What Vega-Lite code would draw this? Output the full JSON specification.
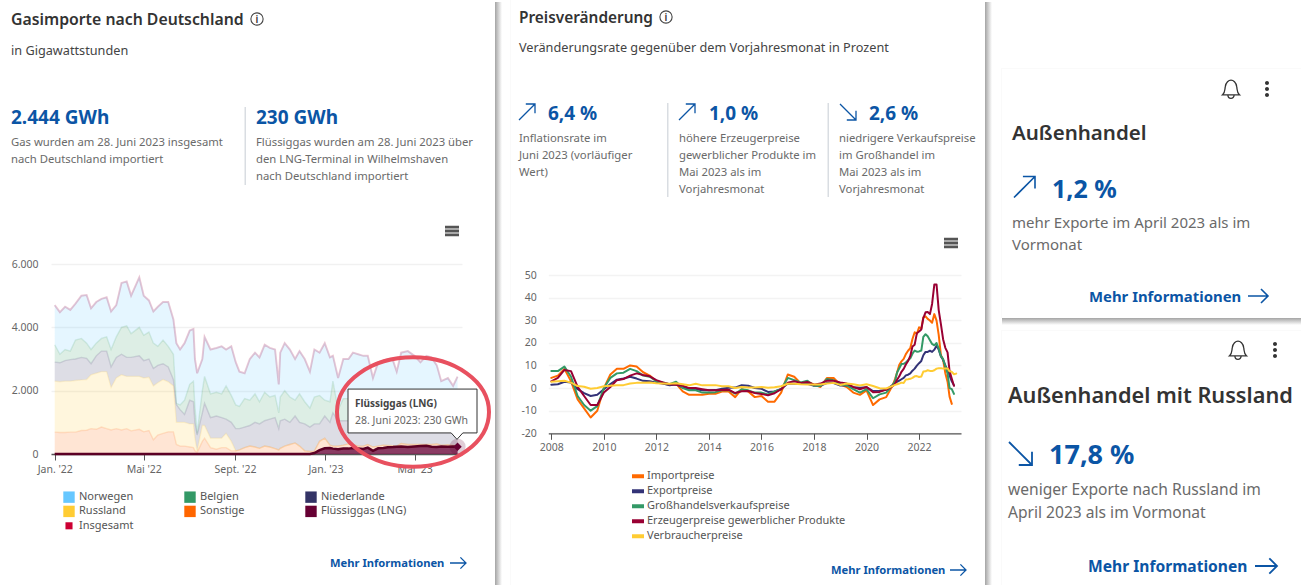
{"$schema":"https://vega.github.io/schema/vega-lite/v6.json","width":1301,"height":585,"padding":0,"autosize":{"type":"none"},"background":"#ffffff","data":{"values":[{}]},
"config":{"view":{"stroke":null},"style":{
"h1":{"font":"Noto Sans","fontSize":15.8,"fontWeight":600,"color":"#333333","align":"left","baseline":"alphabetic"},
"h2":{"font":"Noto Sans","fontSize":20.5,"fontWeight":600,"color":"#333333","align":"left","baseline":"alphabetic"},
"sub":{"font":"Noto Sans","fontSize":12.7,"color":"#444444","align":"left","baseline":"alphabetic"},
"big":{"font":"Noto Sans","fontSize":19,"fontWeight":700,"color":"#0B55A5","align":"left","baseline":"alphabetic"},
"big2":{"font":"Noto Sans","fontSize":25,"fontWeight":700,"color":"#0B55A5","align":"left","baseline":"alphabetic"},
"par":{"font":"Noto Sans","fontSize":11.3,"color":"#6A6A6A","align":"left","baseline":"alphabetic"},
"par2":{"font":"Noto Sans","fontSize":15,"color":"#6A6A6A","align":"left","baseline":"alphabetic"},
"more":{"font":"Noto Sans","fontSize":11.2,"fontWeight":700,"color":"#0B55A5","align":"left","baseline":"alphabetic"},
"more2":{"font":"Noto Sans","fontSize":14.9,"fontWeight":700,"color":"#0B55A5","align":"left","baseline":"alphabetic"},
"tip":{"font":"Noto Sans","fontSize":10,"fontWeight":700,"color":"#444444","align":"left","baseline":"alphabetic"},
"tip2":{"font":"Noto Sans","fontSize":10.5,"color":"#666666","align":"left","baseline":"alphabetic"},
"i":{"font":"Noto Sans","fontSize":10,"fontWeight":600,"color":"#333333","align":"center","baseline":"alphabetic"}
}},
"resolve":{"scale":{"x":"independent","y":"independent","color":"independent"},"axis":{"x":"independent","y":"independent"},"legend":{"color":"independent"}},
"layer":[
{"mark":{"type":"rect","x":495,"x2":502,"y":2,"y2":585,"color":{"x1":0,"x2":1,"y1":0,"y2":0,"gradient":"linear","stops":[{"offset":0,"color":"#a4a4a4"},{"offset":1,"color":"#ffffff"}]}}},
{"mark":{"type":"rect","x":985,"x2":992,"y":2,"y2":585,"color":{"x1":0,"x2":1,"y1":0,"y2":0,"gradient":"linear","stops":[{"offset":0,"color":"#a4a4a4"},{"offset":1,"color":"#ffffff"}]}}},
{"mark":{"type":"rect","x":1002,"x2":1301,"y":318,"y2":325,"color":{"x1":0,"x2":0,"y1":0,"y2":1,"gradient":"linear","stops":[{"offset":0,"color":"#a4a4a4"},{"offset":1,"color":"#ffffff"}]}}},
{"mark":{"type":"rect","x":510,"x2":511,"y":0,"y2":585,"fill":"#fafafa"}},
{"mark":{"type":"rect","x":1001,"x2":1002,"y":68,"y2":318,"fill":"#fafafa"}},
{"mark":{"type":"rect","x":1001,"x2":1002,"y":330,"y2":585,"fill":"#fafafa"}},
{"mark":{"type":"rect","x":1001,"x2":1301,"y":68,"y2":69,"fill":"#fafafa"}},
{"mark":{"type":"rect","x":1001,"x2":1301,"y":330,"y2":331,"fill":"#fafafa"}},
{"mark":{"type":"rect","x":244.5,"x2":246,"y":107,"y2":185,"fill":"#d9dde2"}},
{"mark":{"type":"rect","x":667,"x2":668.5,"y":103,"y2":197,"fill":"#d9dde2"}},
{"mark":{"type":"rect","x":827.5,"x2":829,"y":103,"y2":197,"fill":"#d9dde2"}},
{"data":{"values":[
{"d":"2022-01-01","Norwegen":1250,"Belgien":550,"Niederlande":600,"Russland":1610,"Sonstige":690,"Flüssiggas (LNG)":0,"Insgesamt":4700},
{"d":"2022-01-08","Norwegen":1330,"Belgien":270,"Niederlande":600,"Russland":1600,"Sonstige":680,"Flüssiggas (LNG)":0,"Insgesamt":4480},
{"d":"2022-01-15","Norwegen":1350,"Belgien":350,"Niederlande":650,"Russland":1620,"Sonstige":680,"Flüssiggas (LNG)":0,"Insgesamt":4650},
{"d":"2022-01-22","Norwegen":1300,"Belgien":270,"Niederlande":680,"Russland":1610,"Sonstige":690,"Flüssiggas (LNG)":0,"Insgesamt":4550},
{"d":"2022-01-29","Norwegen":1150,"Belgien":600,"Niederlande":680,"Russland":1630,"Sonstige":690,"Flüssiggas (LNG)":0,"Insgesamt":4750},
{"d":"2022-02-06","Norwegen":1350,"Belgien":600,"Niederlande":710,"Russland":1600,"Sonstige":740,"Flüssiggas (LNG)":0,"Insgesamt":5000},
{"d":"2022-02-13","Norwegen":1520,"Belgien":480,"Niederlande":670,"Russland":1600,"Sonstige":750,"Flüssiggas (LNG)":0,"Insgesamt":5020},
{"d":"2022-02-19","Norwegen":1300,"Belgien":450,"Niederlande":350,"Russland":1700,"Sonstige":800,"Flüssiggas (LNG)":0,"Insgesamt":4600},
{"d":"2022-02-26","Norwegen":1300,"Belgien":400,"Niederlande":550,"Russland":1770,"Sonstige":780,"Flüssiggas (LNG)":0,"Insgesamt":4800},
{"d":"2022-03-05","Norwegen":1250,"Belgien":400,"Niederlande":650,"Russland":1750,"Sonstige":850,"Flüssiggas (LNG)":0,"Insgesamt":4900},
{"d":"2022-03-12","Norwegen":1250,"Belgien":450,"Niederlande":650,"Russland":1800,"Sonstige":800,"Flüssiggas (LNG)":0,"Insgesamt":4950},
{"d":"2022-03-18","Norwegen":1200,"Belgien":550,"Niederlande":650,"Russland":1340,"Sonstige":760,"Flüssiggas (LNG)":0,"Insgesamt":4500},
{"d":"2022-03-25","Norwegen":1000,"Belgien":650,"Niederlande":650,"Russland":1600,"Sonstige":800,"Flüssiggas (LNG)":0,"Insgesamt":4700},
{"d":"2022-04-01","Norwegen":1400,"Belgien":850,"Niederlande":650,"Russland":1740,"Sonstige":760,"Flüssiggas (LNG)":0,"Insgesamt":5400},
{"d":"2022-04-08","Norwegen":1400,"Belgien":1000,"Niederlande":600,"Russland":1650,"Sonstige":800,"Flüssiggas (LNG)":0,"Insgesamt":5450},
{"d":"2022-04-14","Norwegen":1200,"Belgien":750,"Niederlande":600,"Russland":1720,"Sonstige":730,"Flüssiggas (LNG)":0,"Insgesamt":5000},
{"d":"2022-04-25","Norwegen":1580,"Belgien":900,"Niederlande":650,"Russland":1670,"Sonstige":780,"Flüssiggas (LNG)":0,"Insgesamt":5580},
{"d":"2022-05-01","Norwegen":1250,"Belgien":800,"Niederlande":550,"Russland":1700,"Sonstige":700,"Flüssiggas (LNG)":0,"Insgesamt":5000},
{"d":"2022-05-08","Norwegen":1000,"Belgien":850,"Niederlande":580,"Russland":1680,"Sonstige":740,"Flüssiggas (LNG)":0,"Insgesamt":4850},
{"d":"2022-05-14","Norwegen":1000,"Belgien":800,"Niederlande":550,"Russland":1700,"Sonstige":450,"Flüssiggas (LNG)":0,"Insgesamt":4500},
{"d":"2022-05-20","Norwegen":1250,"Belgien":600,"Niederlande":550,"Russland":1650,"Sonstige":600,"Flüssiggas (LNG)":0,"Insgesamt":4650},
{"d":"2022-05-27","Norwegen":1200,"Belgien":750,"Niederlande":500,"Russland":1700,"Sonstige":650,"Flüssiggas (LNG)":0,"Insgesamt":4800},
{"d":"2022-06-03","Norwegen":1400,"Belgien":650,"Niederlande":470,"Russland":1580,"Sonstige":700,"Flüssiggas (LNG)":0,"Insgesamt":4800},
{"d":"2022-06-10","Norwegen":1100,"Belgien":800,"Niederlande":200,"Russland":1450,"Sonstige":700,"Flüssiggas (LNG)":0,"Insgesamt":4250},
{"d":"2022-06-14","Norwegen":1900,"Belgien":40,"Niederlande":560,"Russland":700,"Sonstige":300,"Flüssiggas (LNG)":0,"Insgesamt":3500},
{"d":"2022-06-19","Norwegen":1750,"Belgien":150,"Niederlande":400,"Russland":750,"Sonstige":250,"Flüssiggas (LNG)":0,"Insgesamt":3300},
{"d":"2022-06-25","Norwegen":1800,"Belgien":450,"Niederlande":250,"Russland":750,"Sonstige":250,"Flüssiggas (LNG)":0,"Insgesamt":3500},
{"d":"2022-07-02","Norwegen":1700,"Belgien":500,"Niederlande":750,"Russland":730,"Sonstige":220,"Flüssiggas (LNG)":0,"Insgesamt":3900},
{"d":"2022-07-07","Norwegen":1650,"Belgien":650,"Niederlande":700,"Russland":750,"Sonstige":200,"Flüssiggas (LNG)":0,"Insgesamt":3950},
{"d":"2022-07-09","Norwegen":1500,"Belgien":500,"Niederlande":500,"Russland":400,"Sonstige":100,"Flüssiggas (LNG)":0,"Insgesamt":3000},
{"d":"2022-07-12","Norwegen":1900,"Belgien":50,"Niederlande":500,"Russland":50,"Sonstige":50,"Flüssiggas (LNG)":0,"Insgesamt":2550},
{"d":"2022-07-19","Norwegen":1000,"Belgien":700,"Niederlande":400,"Russland":500,"Sonstige":400,"Flüssiggas (LNG)":0,"Insgesamt":3000},
{"d":"2022-07-22","Norwegen":1250,"Belgien":850,"Niederlande":700,"Russland":400,"Sonstige":500,"Flüssiggas (LNG)":0,"Insgesamt":3700},
{"d":"2022-07-30","Norwegen":1400,"Belgien":750,"Niederlande":650,"Russland":300,"Sonstige":200,"Flüssiggas (LNG)":0,"Insgesamt":3300},
{"d":"2022-08-07","Norwegen":1400,"Belgien":750,"Niederlande":700,"Russland":350,"Sonstige":150,"Flüssiggas (LNG)":0,"Insgesamt":3350},
{"d":"2022-08-14","Norwegen":1500,"Belgien":750,"Niederlande":650,"Russland":300,"Sonstige":200,"Flüssiggas (LNG)":0,"Insgesamt":3400},
{"d":"2022-08-20","Norwegen":1150,"Belgien":1050,"Niederlande":450,"Russland":450,"Sonstige":200,"Flüssiggas (LNG)":0,"Insgesamt":3300},
{"d":"2022-08-27","Norwegen":1550,"Belgien":850,"Niederlande":600,"Russland":300,"Sonstige":100,"Flüssiggas (LNG)":0,"Insgesamt":3400},
{"d":"2022-09-02","Norwegen":1350,"Belgien":750,"Niederlande":700,"Russland":0,"Sonstige":100,"Flüssiggas (LNG)":0,"Insgesamt":2900},
{"d":"2022-09-07","Norwegen":1100,"Belgien":700,"Niederlande":670,"Russland":0,"Sonstige":130,"Flüssiggas (LNG)":0,"Insgesamt":2600},
{"d":"2022-09-14","Norwegen":800,"Belgien":900,"Niederlande":650,"Russland":0,"Sonstige":200,"Flüssiggas (LNG)":0,"Insgesamt":2550},
{"d":"2022-09-21","Norwegen":1300,"Belgien":800,"Niederlande":650,"Russland":0,"Sonstige":250,"Flüssiggas (LNG)":0,"Insgesamt":3000},
{"d":"2022-09-28","Norwegen":1300,"Belgien":900,"Niederlande":780,"Russland":0,"Sonstige":220,"Flüssiggas (LNG)":0,"Insgesamt":3200},
{"d":"2022-10-04","Norwegen":1400,"Belgien":700,"Niederlande":770,"Russland":0,"Sonstige":180,"Flüssiggas (LNG)":0,"Insgesamt":3050},
{"d":"2022-10-11","Norwegen":1500,"Belgien":900,"Niederlande":800,"Russland":0,"Sonstige":250,"Flüssiggas (LNG)":0,"Insgesamt":3450},
{"d":"2022-10-18","Norwegen":1550,"Belgien":700,"Niederlande":880,"Russland":0,"Sonstige":220,"Flüssiggas (LNG)":0,"Insgesamt":3350},
{"d":"2022-10-25","Norwegen":1450,"Belgien":700,"Niederlande":980,"Russland":0,"Sonstige":170,"Flüssiggas (LNG)":0,"Insgesamt":3300},
{"d":"2022-10-30","Norwegen":900,"Belgien":500,"Niederlande":670,"Russland":0,"Sonstige":130,"Flüssiggas (LNG)":0,"Insgesamt":2200},
{"d":"2022-11-01","Norwegen":1400,"Belgien":750,"Niederlande":870,"Russland":0,"Sonstige":180,"Flüssiggas (LNG)":0,"Insgesamt":3200},
{"d":"2022-11-07","Norwegen":1500,"Belgien":900,"Niederlande":850,"Russland":0,"Sonstige":250,"Flüssiggas (LNG)":0,"Insgesamt":3500},
{"d":"2022-11-14","Norwegen":1500,"Belgien":800,"Niederlande":700,"Russland":0,"Sonstige":300,"Flüssiggas (LNG)":0,"Insgesamt":3300},
{"d":"2022-11-21","Norwegen":1300,"Belgien":500,"Niederlande":850,"Russland":0,"Sonstige":350,"Flüssiggas (LNG)":0,"Insgesamt":3000},
{"d":"2022-11-27","Norwegen":1350,"Belgien":900,"Niederlande":750,"Russland":0,"Sonstige":250,"Flüssiggas (LNG)":0,"Insgesamt":3250},
{"d":"2022-12-04","Norwegen":1350,"Belgien":700,"Niederlande":850,"Russland":0,"Sonstige":100,"Flüssiggas (LNG)":0,"Insgesamt":3000},
{"d":"2022-12-11","Norwegen":1150,"Belgien":600,"Niederlande":770,"Russland":0,"Sonstige":80,"Flüssiggas (LNG)":0,"Insgesamt":2600},
{"d":"2022-12-17","Norwegen":1500,"Belgien":850,"Niederlande":860,"Russland":0,"Sonstige":60,"Flüssiggas (LNG)":30,"Insgesamt":3300},
{"d":"2022-12-24","Norwegen":1350,"Belgien":900,"Niederlande":550,"Russland":0,"Sonstige":280,"Flüssiggas (LNG)":120,"Insgesamt":3200},
{"d":"2022-12-31","Norwegen":1800,"Belgien":500,"Niederlande":700,"Russland":0,"Sonstige":320,"Flüssiggas (LNG)":180,"Insgesamt":3500},
{"d":"2023-01-07","Norwegen":1400,"Belgien":650,"Niederlande":720,"Russland":0,"Sonstige":90,"Flüssiggas (LNG)":190,"Insgesamt":3050},
{"d":"2023-01-11","Norwegen":800,"Belgien":1000,"Niederlande":1050,"Russland":0,"Sonstige":80,"Flüssiggas (LNG)":170,"Insgesamt":3100},
{"d":"2023-01-18","Norwegen":1000,"Belgien":350,"Niederlande":800,"Russland":0,"Sonstige":100,"Flüssiggas (LNG)":150,"Insgesamt":2400},
{"d":"2023-01-25","Norwegen":1250,"Belgien":700,"Niederlande":770,"Russland":0,"Sonstige":110,"Flüssiggas (LNG)":170,"Insgesamt":3000},
{"d":"2023-02-01","Norwegen":1250,"Belgien":700,"Niederlande":730,"Russland":0,"Sonstige":150,"Flüssiggas (LNG)":170,"Insgesamt":3000},
{"d":"2023-02-07","Norwegen":1300,"Belgien":850,"Niederlande":750,"Russland":0,"Sonstige":110,"Flüssiggas (LNG)":190,"Insgesamt":3200},
{"d":"2023-02-14","Norwegen":1450,"Belgien":700,"Niederlande":750,"Russland":0,"Sonstige":80,"Flüssiggas (LNG)":170,"Insgesamt":3150},
{"d":"2023-02-21","Norwegen":1450,"Belgien":600,"Niederlande":800,"Russland":0,"Sonstige":90,"Flüssiggas (LNG)":160,"Insgesamt":3100},
{"d":"2023-02-27","Norwegen":1300,"Belgien":700,"Niederlande":800,"Russland":0,"Sonstige":100,"Flüssiggas (LNG)":200,"Insgesamt":3100},
{"d":"2023-03-06","Norwegen":900,"Belgien":500,"Niederlande":780,"Russland":0,"Sonstige":120,"Flüssiggas (LNG)":100,"Insgesamt":2400},
{"d":"2023-03-13","Norwegen":1250,"Belgien":550,"Niederlande":850,"Russland":0,"Sonstige":70,"Flüssiggas (LNG)":180,"Insgesamt":2900},
{"d":"2023-03-20","Norwegen":1250,"Belgien":600,"Niederlande":820,"Russland":0,"Sonstige":90,"Flüssiggas (LNG)":190,"Insgesamt":2950},
{"d":"2023-03-26","Norwegen":1250,"Belgien":700,"Niederlande":780,"Russland":0,"Sonstige":60,"Flüssiggas (LNG)":210,"Insgesamt":3000},
{"d":"2023-04-02","Norwegen":1150,"Belgien":700,"Niederlande":840,"Russland":0,"Sonstige":40,"Flüssiggas (LNG)":220,"Insgesamt":2950},
{"d":"2023-04-07","Norwegen":1100,"Belgien":450,"Niederlande":800,"Russland":0,"Sonstige":20,"Flüssiggas (LNG)":230,"Insgesamt":2600},
{"d":"2023-04-13","Norwegen":1350,"Belgien":750,"Niederlande":770,"Russland":0,"Sonstige":90,"Flüssiggas (LNG)":240,"Insgesamt":3200},
{"d":"2023-04-22","Norwegen":1500,"Belgien":600,"Niederlande":850,"Russland":0,"Sonstige":80,"Flüssiggas (LNG)":220,"Insgesamt":3250},
{"d":"2023-05-01","Norwegen":1300,"Belgien":700,"Niederlande":800,"Russland":0,"Sonstige":60,"Flüssiggas (LNG)":240,"Insgesamt":3100},
{"d":"2023-05-09","Norwegen":1200,"Belgien":700,"Niederlande":700,"Russland":0,"Sonstige":50,"Flüssiggas (LNG)":250,"Insgesamt":2900},
{"d":"2023-05-17","Norwegen":1300,"Belgien":750,"Niederlande":750,"Russland":0,"Sonstige":40,"Flüssiggas (LNG)":260,"Insgesamt":3100},
{"d":"2023-05-24","Norwegen":1300,"Belgien":750,"Niederlande":700,"Russland":0,"Sonstige":70,"Flüssiggas (LNG)":230,"Insgesamt":3050},
{"d":"2023-05-31","Norwegen":1200,"Belgien":650,"Niederlande":630,"Russland":0,"Sonstige":100,"Flüssiggas (LNG)":220,"Insgesamt":2800},
{"d":"2023-06-06","Norwegen":800,"Belgien":550,"Niederlande":670,"Russland":0,"Sonstige":40,"Flüssiggas (LNG)":240,"Insgesamt":2300},
{"d":"2023-06-15","Norwegen":800,"Belgien":650,"Niederlande":660,"Russland":0,"Sonstige":60,"Flüssiggas (LNG)":230,"Insgesamt":2400},
{"d":"2023-06-22","Norwegen":750,"Belgien":500,"Niederlande":630,"Russland":0,"Sonstige":30,"Flüssiggas (LNG)":240,"Insgesamt":2150},
{"d":"2023-06-28","Norwegen":944,"Belgien":600,"Niederlande":630,"Russland":0,"Sonstige":40,"Flüssiggas (LNG)":230,"Insgesamt":2444}
]},
"transform":[{"fold":["Norwegen","Belgien","Niederlande","Russland","Sonstige","Flüssiggas (LNG)","Insgesamt"],"as":["series","value"]},{"calculate":"indexof(['Flüssiggas (LNG)','Sonstige','Russland','Niederlande','Belgien','Norwegen','Insgesamt'],datum.series)","as":"rank"}],
"encoding":{"x":{"field":"d","type":"temporal","title":null,"scale":{"type":"utc","domain":[{"year":2021,"month":12,"date":27,"utc":true},{"year":2023,"month":7,"date":4,"utc":true}],"range":[51,462]},
"axis":{"orient":"bottom","offset":-131,"grid":false,"values":[{"year":2022,"month":1,"date":1,"utc":true},{"year":2022,"month":5,"date":1,"utc":true},{"year":2022,"month":9,"date":1,"utc":true},{"year":2023,"month":1,"date":1,"utc":true},{"year":2023,"month":5,"date":1,"utc":true}],"labelExpr":"(utcmonth(datum.value)==0?'Jan. ':utcmonth(datum.value)==4?'Mai ':'Sept. ')+\"'\"+utcFormat(datum.value,'%y')","domainColor":"#555555","domainWidth":1.5,"tickColor":"#555555","tickSize":6,"labelFont":"Noto Sans","labelFontSize":10.5,"labelColor":"#666666","labelPadding":4,"labelOverlap":false,"labelFlush":false}},
"y":{"field":"value","type":"quantitative","title":null,"stack":"zero","scale":{"domain":[0,6000],"range":[454,264],"nice":false,"zero":false},
"axis":{"orient":"left","offset":-51,"values":[0,2000,4000,6000],"labelExpr":"replace(format(datum.value,','),',','.')","domain":false,"ticks":false,"grid":true,"gridColor":"#f1f1f1","gridWidth":1.5,"labelFont":"Noto Sans","labelFontSize":10.5,"labelColor":"#666666","labelPadding":13}},
"color":{"field":"series","type":"nominal","sort":null,"scale":{"domain":["Norwegen","Russland","Flüssiggas (LNG)","Belgien","Sonstige","Insgesamt","Niederlande"],"range":["#66c7ff","#ffcc33","#660033","#339966","#ff6600","#cc0033","#333366"]},
"legend":{"orient":"none","legendX":63,"legendY":491,"columns":3,"gridAlign":"all","title":null,"symbolType":"square","symbolSize":130,"symbolOpacity":1,"symbolStrokeWidth":0,"labelFont":"Noto Sans","labelFontSize":11,"labelColor":"#555555","columnPadding":19,"rowPadding":2.4,"labelLimit":200,"labelOffset":4,"encode":{"symbols":{"update":{"size":{"signal":"datum.value=='Insgesamt'?50:130"}}}}}},
"order":{"field":"rank"}},
"layer":[
{"transform":[{"filter":"datum.series!='Insgesamt'"}],"mark":{"type":"area","opacity":0.17,"interpolate":"linear","line":{"opacity":0.15,"strokeWidth":1.4}}},
{"transform":[{"filter":"datum.series=='Insgesamt'"}],"mark":{"type":"line","opacity":0.2,"strokeWidth":2,"color":"#99005a"},"encoding":{"color":{"field":"series","type":"nominal"},"y":{"field":"value","type":"quantitative","stack":null}}},
{"transform":[{"filter":"datum.series=='Flüssiggas (LNG)'"}],"mark":{"type":"area","fill":"#660033","opacity":0.72},"encoding":{"y":{"field":"value","type":"quantitative","stack":null}}},
{"transform":[{"filter":"datum.series=='Flüssiggas (LNG)'"}],"mark":{"type":"line","stroke":"#5c0024","strokeWidth":2.5},"encoding":{"y":{"field":"value","type":"quantitative","stack":null}}},
{"transform":[{"filter":"datum.series=='Flüssiggas (LNG)' && datum.Insgesamt==2444"}],"mark":{"type":"point","shape":"circle","filled":true,"fill":"#660033","opacity":0.2,"size":260},"encoding":{"y":{"field":"value","type":"quantitative","stack":null}}},
{"transform":[{"filter":"datum.series=='Flüssiggas (LNG)' && datum.Insgesamt==2444"}],"mark":{"type":"point","shape":"diamond","filled":true,"fill":"#660033","opacity":1,"size":70},"encoding":{"y":{"field":"value","type":"quantitative","stack":null}}}
]},
{"data":{"values":[
{"d":"2008-01-01","Importpreise":4.5,"Exportpreise":1.5,"Großhandelsverkaufspreise":7.5,"Erzeugerpreise gewerblicher Produkte":3,"Verbraucherpreise":2.8},
{"d":"2008-04-01","Importpreise":5.5,"Exportpreise":1.7,"Großhandelsverkaufspreise":7.5,"Erzeugerpreise gewerblicher Produkte":4.5,"Verbraucherpreise":3},
{"d":"2008-07-01","Importpreise":8.5,"Exportpreise":2.8,"Großhandelsverkaufspreise":9.5,"Erzeugerpreise gewerblicher Produkte":8,"Verbraucherpreise":3.2},
{"d":"2008-10-01","Importpreise":3,"Exportpreise":2.5,"Großhandelsverkaufspreise":5,"Erzeugerpreise gewerblicher Produkte":7.5,"Verbraucherpreise":2.4},
{"d":"2009-01-01","Importpreise":-5,"Exportpreise":-0.5,"Großhandelsverkaufspreise":-3.5,"Erzeugerpreise gewerblicher Produkte":0.5,"Verbraucherpreise":0.9},
{"d":"2009-04-01","Importpreise":-9,"Exportpreise":-2.2,"Großhandelsverkaufspreise":-7.5,"Erzeugerpreise gewerblicher Produkte":-3.5,"Verbraucherpreise":0.6},
{"d":"2009-07-01","Importpreise":-13,"Exportpreise":-3.5,"Großhandelsverkaufspreise":-10,"Erzeugerpreise gewerblicher Produkte":-7.5,"Verbraucherpreise":-0.3},
{"d":"2009-10-01","Importpreise":-10,"Exportpreise":-3,"Großhandelsverkaufspreise":-8,"Erzeugerpreise gewerblicher Produkte":-7.5,"Verbraucherpreise":0},
{"d":"2010-01-01","Importpreise":0,"Exportpreise":-0.5,"Großhandelsverkaufspreise":0,"Erzeugerpreise gewerblicher Produkte":-2,"Verbraucherpreise":0.8},
{"d":"2010-04-01","Importpreise":6,"Exportpreise":1.8,"Großhandelsverkaufspreise":4.5,"Erzeugerpreise gewerblicher Produkte":0.5,"Verbraucherpreise":1},
{"d":"2010-07-01","Importpreise":8.5,"Exportpreise":3.7,"Großhandelsverkaufspreise":6.5,"Erzeugerpreise gewerblicher Produkte":3.5,"Verbraucherpreise":1.2},
{"d":"2010-10-01","Importpreise":8.5,"Exportpreise":4.2,"Großhandelsverkaufspreise":6.8,"Erzeugerpreise gewerblicher Produkte":4,"Verbraucherpreise":1.3},
{"d":"2011-01-01","Importpreise":10,"Exportpreise":5,"Großhandelsverkaufspreise":8.5,"Erzeugerpreise gewerblicher Produkte":5.5,"Verbraucherpreise":2},
{"d":"2011-04-01","Importpreise":9.5,"Exportpreise":4.2,"Großhandelsverkaufspreise":7.5,"Erzeugerpreise gewerblicher Produkte":6.5,"Verbraucherpreise":2.3},
{"d":"2011-07-01","Importpreise":7,"Exportpreise":3.2,"Großhandelsverkaufspreise":5.5,"Erzeugerpreise gewerblicher Produkte":5.8,"Verbraucherpreise":2.4},
{"d":"2011-10-01","Importpreise":5.5,"Exportpreise":3,"Großhandelsverkaufspreise":5,"Erzeugerpreise gewerblicher Produkte":5.2,"Verbraucherpreise":2.5},
{"d":"2012-01-01","Importpreise":3,"Exportpreise":2.4,"Großhandelsverkaufspreise":3,"Erzeugerpreise gewerblicher Produkte":3.5,"Verbraucherpreise":2.1},
{"d":"2012-04-01","Importpreise":2,"Exportpreise":2,"Großhandelsverkaufspreise":2.5,"Erzeugerpreise gewerblicher Produkte":2.5,"Verbraucherpreise":2},
{"d":"2012-07-01","Importpreise":1.5,"Exportpreise":1.2,"Großhandelsverkaufspreise":1.7,"Erzeugerpreise gewerblicher Produkte":1.7,"Verbraucherpreise":1.9},
{"d":"2012-10-01","Importpreise":2,"Exportpreise":1.6,"Großhandelsverkaufspreise":2.8,"Erzeugerpreise gewerblicher Produkte":1.5,"Verbraucherpreise":2.1},
{"d":"2013-01-01","Importpreise":-1.5,"Exportpreise":0.2,"Großhandelsverkaufspreise":0,"Erzeugerpreise gewerblicher Produkte":1,"Verbraucherpreise":1.7},
{"d":"2013-04-01","Importpreise":-3,"Exportpreise":-0.3,"Großhandelsverkaufspreise":-1,"Erzeugerpreise gewerblicher Produkte":0,"Verbraucherpreise":1.2},
{"d":"2013-07-01","Importpreise":-3,"Exportpreise":-0.5,"Großhandelsverkaufspreise":-1,"Erzeugerpreise gewerblicher Produkte":0,"Verbraucherpreise":1.9},
{"d":"2013-10-01","Importpreise":-3,"Exportpreise":-1,"Großhandelsverkaufspreise":-2,"Erzeugerpreise gewerblicher Produkte":-0.5,"Verbraucherpreise":1.2},
{"d":"2014-01-01","Importpreise":-2.5,"Exportpreise":-1,"Großhandelsverkaufspreise":-2,"Erzeugerpreise gewerblicher Produkte":-1,"Verbraucherpreise":1.3},
{"d":"2014-04-01","Importpreise":-2.5,"Exportpreise":-0.9,"Großhandelsverkaufspreise":-1.8,"Erzeugerpreise gewerblicher Produkte":-1,"Verbraucherpreise":1.3},
{"d":"2014-07-01","Importpreise":-1.5,"Exportpreise":-0.3,"Großhandelsverkaufspreise":-1,"Erzeugerpreise gewerblicher Produkte":-0.8,"Verbraucherpreise":0.8},
{"d":"2014-10-01","Importpreise":-1.5,"Exportpreise":0.1,"Großhandelsverkaufspreise":-0.8,"Erzeugerpreise gewerblicher Produkte":-0.7,"Verbraucherpreise":0.8},
{"d":"2015-01-01","Importpreise":-4,"Exportpreise":0.2,"Großhandelsverkaufspreise":-2.5,"Erzeugerpreise gewerblicher Produkte":-2.2,"Verbraucherpreise":0},
{"d":"2015-04-01","Importpreise":-0.5,"Exportpreise":1.3,"Großhandelsverkaufspreise":-0.5,"Erzeugerpreise gewerblicher Produkte":-1.4,"Verbraucherpreise":0.5},
{"d":"2015-07-01","Importpreise":-1.5,"Exportpreise":1,"Großhandelsverkaufspreise":-1,"Erzeugerpreise gewerblicher Produkte":-1.3,"Verbraucherpreise":0.2},
{"d":"2015-10-01","Importpreise":-4,"Exportpreise":0,"Großhandelsverkaufspreise":-2,"Erzeugerpreise gewerblicher Produkte":-2.2,"Verbraucherpreise":0.3},
{"d":"2016-01-01","Importpreise":-3.5,"Exportpreise":-0.3,"Großhandelsverkaufspreise":-2,"Erzeugerpreise gewerblicher Produkte":-2.6,"Verbraucherpreise":0.5},
{"d":"2016-04-01","Importpreise":-6,"Exportpreise":-1.7,"Großhandelsverkaufspreise":-2.8,"Erzeugerpreise gewerblicher Produkte":-3.2,"Verbraucherpreise":0.1},
{"d":"2016-07-01","Importpreise":-6,"Exportpreise":-1.5,"Großhandelsverkaufspreise":-1.5,"Erzeugerpreise gewerblicher Produkte":-2.3,"Verbraucherpreise":0.4},
{"d":"2016-10-01","Importpreise":-2,"Exportpreise":-0.4,"Großhandelsverkaufspreise":-0.5,"Erzeugerpreise gewerblicher Produkte":-0.5,"Verbraucherpreise":0.8},
{"d":"2017-01-01","Importpreise":6,"Exportpreise":2,"Großhandelsverkaufspreise":4.5,"Erzeugerpreise gewerblicher Produkte":2.4,"Verbraucherpreise":1.9},
{"d":"2017-04-01","Importpreise":5,"Exportpreise":1.9,"Großhandelsverkaufspreise":3.5,"Erzeugerpreise gewerblicher Produkte":3,"Verbraucherpreise":1.9},
{"d":"2017-07-01","Importpreise":2,"Exportpreise":1.8,"Großhandelsverkaufspreise":2.5,"Erzeugerpreise gewerblicher Produkte":2.3,"Verbraucherpreise":1.7},
{"d":"2017-10-01","Importpreise":3,"Exportpreise":1.9,"Großhandelsverkaufspreise":3.2,"Erzeugerpreise gewerblicher Produkte":2.7,"Verbraucherpreise":1.6},
{"d":"2018-01-01","Importpreise":1.5,"Exportpreise":1,"Großhandelsverkaufspreise":1,"Erzeugerpreise gewerblicher Produkte":1.5,"Verbraucherpreise":1.6},
{"d":"2018-04-01","Importpreise":0.5,"Exportpreise":1,"Großhandelsverkaufspreise":1,"Erzeugerpreise gewerblicher Produkte":2,"Verbraucherpreise":1.6},
{"d":"2018-07-01","Importpreise":4.5,"Exportpreise":2.3,"Großhandelsverkaufspreise":4,"Erzeugerpreise gewerblicher Produkte":3.3,"Verbraucherpreise":2},
{"d":"2018-10-01","Importpreise":4.5,"Exportpreise":2.2,"Großhandelsverkaufspreise":3.5,"Erzeugerpreise gewerblicher Produkte":3.2,"Verbraucherpreise":2.3},
{"d":"2019-01-01","Importpreise":1.5,"Exportpreise":1.1,"Großhandelsverkaufspreise":1.5,"Erzeugerpreise gewerblicher Produkte":2.5,"Verbraucherpreise":1.4},
{"d":"2019-04-01","Importpreise":0.5,"Exportpreise":1.2,"Großhandelsverkaufspreise":1.2,"Erzeugerpreise gewerblicher Produkte":2,"Verbraucherpreise":2},
{"d":"2019-07-01","Importpreise":-2,"Exportpreise":0.4,"Großhandelsverkaufspreise":-0.5,"Erzeugerpreise gewerblicher Produkte":0.5,"Verbraucherpreise":1.7},
{"d":"2019-10-01","Importpreise":-3,"Exportpreise":0.1,"Großhandelsverkaufspreise":-2,"Erzeugerpreise gewerblicher Produkte":-0.5,"Verbraucherpreise":1.1},
{"d":"2020-01-01","Importpreise":-1,"Exportpreise":0.4,"Großhandelsverkaufspreise":-0.5,"Erzeugerpreise gewerblicher Produkte":0.5,"Verbraucherpreise":1.7},
{"d":"2020-04-01","Importpreise":-7.5,"Exportpreise":-1.3,"Großhandelsverkaufspreise":-4.5,"Erzeugerpreise gewerblicher Produkte":-1.8,"Verbraucherpreise":0.9},
{"d":"2020-07-01","Importpreise":-5,"Exportpreise":-1.2,"Großhandelsverkaufspreise":-2.8,"Erzeugerpreise gewerblicher Produkte":-1.7,"Verbraucherpreise":-0.1},
{"d":"2020-10-01","Importpreise":-4,"Exportpreise":-0.8,"Großhandelsverkaufspreise":-2,"Erzeugerpreise gewerblicher Produkte":-0.7,"Verbraucherpreise":-0.2},
{"d":"2021-01-01","Importpreise":1.4,"Exportpreise":1.5,"Großhandelsverkaufspreise":1.4,"Erzeugerpreise gewerblicher Produkte":0.9,"Verbraucherpreise":1},
{"d":"2021-02-01","Importpreise":4,"Exportpreise":2.2,"Großhandelsverkaufspreise":3.2,"Erzeugerpreise gewerblicher Produkte":1.9,"Verbraucherpreise":1.4},
{"d":"2021-03-01","Importpreise":6.9,"Exportpreise":2.8,"Großhandelsverkaufspreise":6.9,"Erzeugerpreise gewerblicher Produkte":3.7,"Verbraucherpreise":1.7},
{"d":"2021-04-01","Importpreise":10.3,"Exportpreise":3.3,"Großhandelsverkaufspreise":8.8,"Erzeugerpreise gewerblicher Produkte":5.2,"Verbraucherpreise":2},
{"d":"2021-05-01","Importpreise":11.8,"Exportpreise":3.9,"Großhandelsverkaufspreise":10.6,"Erzeugerpreise gewerblicher Produkte":7.2,"Verbraucherpreise":2.4},
{"d":"2021-06-01","Importpreise":12.9,"Exportpreise":4.5,"Großhandelsverkaufspreise":10.7,"Erzeugerpreise gewerblicher Produkte":8.5,"Verbraucherpreise":2.2},
{"d":"2021-07-01","Importpreise":15,"Exportpreise":5.6,"Großhandelsverkaufspreise":11.3,"Erzeugerpreise gewerblicher Produkte":10.4,"Verbraucherpreise":3.8},
{"d":"2021-08-01","Importpreise":16.5,"Exportpreise":5.9,"Großhandelsverkaufspreise":12.3,"Erzeugerpreise gewerblicher Produkte":12,"Verbraucherpreise":3.9},
{"d":"2021-09-01","Importpreise":17.7,"Exportpreise":6.5,"Großhandelsverkaufspreise":13.2,"Erzeugerpreise gewerblicher Produkte":14.2,"Verbraucherpreise":4.1},
{"d":"2021-10-01","Importpreise":21.7,"Exportpreise":7.7,"Großhandelsverkaufspreise":15.2,"Erzeugerpreise gewerblicher Produkte":18.4,"Verbraucherpreise":4.5},
{"d":"2021-11-01","Importpreise":24.7,"Exportpreise":8.6,"Großhandelsverkaufspreise":16.6,"Erzeugerpreise gewerblicher Produkte":19.2,"Verbraucherpreise":5.2},
{"d":"2021-12-01","Importpreise":24,"Exportpreise":9.9,"Großhandelsverkaufspreise":16.1,"Erzeugerpreise gewerblicher Produkte":24.2,"Verbraucherpreise":5.3},
{"d":"2022-01-01","Importpreise":26.9,"Exportpreise":11,"Großhandelsverkaufspreise":16.2,"Erzeugerpreise gewerblicher Produkte":25,"Verbraucherpreise":4.9},
{"d":"2022-02-01","Importpreise":26.3,"Exportpreise":12,"Großhandelsverkaufspreise":16.6,"Erzeugerpreise gewerblicher Produkte":25.9,"Verbraucherpreise":5.1},
{"d":"2022-03-01","Importpreise":31.2,"Exportpreise":14.5,"Großhandelsverkaufspreise":22.6,"Erzeugerpreise gewerblicher Produkte":30.9,"Verbraucherpreise":7.3},
{"d":"2022-04-01","Importpreise":31.7,"Exportpreise":16,"Großhandelsverkaufspreise":23.8,"Erzeugerpreise gewerblicher Produkte":33.5,"Verbraucherpreise":7.4},
{"d":"2022-05-01","Importpreise":30.6,"Exportpreise":16,"Großhandelsverkaufspreise":22.9,"Erzeugerpreise gewerblicher Produkte":33.6,"Verbraucherpreise":7.9},
{"d":"2022-06-01","Importpreise":29.9,"Exportpreise":16.5,"Großhandelsverkaufspreise":21.2,"Erzeugerpreise gewerblicher Produkte":32.7,"Verbraucherpreise":7.6},
{"d":"2022-07-01","Importpreise":28.9,"Exportpreise":16,"Großhandelsverkaufspreise":19.5,"Erzeugerpreise gewerblicher Produkte":37.2,"Verbraucherpreise":7.5},
{"d":"2022-08-01","Importpreise":32.7,"Exportpreise":17,"Großhandelsverkaufspreise":18.9,"Erzeugerpreise gewerblicher Produkte":45.8,"Verbraucherpreise":7.9},
{"d":"2022-09-01","Importpreise":29.8,"Exportpreise":18.7,"Großhandelsverkaufspreise":19.9,"Erzeugerpreise gewerblicher Produkte":45.8,"Verbraucherpreise":8.6},
{"d":"2022-10-01","Importpreise":23.5,"Exportpreise":17,"Großhandelsverkaufspreise":17.4,"Erzeugerpreise gewerblicher Produkte":34.5,"Verbraucherpreise":8.8},
{"d":"2022-11-01","Importpreise":14.5,"Exportpreise":14,"Großhandelsverkaufspreise":14.1,"Erzeugerpreise gewerblicher Produkte":28.2,"Verbraucherpreise":8.8},
{"d":"2022-12-01","Importpreise":12.6,"Exportpreise":12.5,"Großhandelsverkaufspreise":12.8,"Erzeugerpreise gewerblicher Produkte":21.6,"Verbraucherpreise":8.6},
{"d":"2023-01-01","Importpreise":6.6,"Exportpreise":10,"Großhandelsverkaufspreise":9.6,"Erzeugerpreise gewerblicher Produkte":17.8,"Verbraucherpreise":8.7},
{"d":"2023-02-01","Importpreise":2.8,"Exportpreise":8,"Großhandelsverkaufspreise":6.5,"Erzeugerpreise gewerblicher Produkte":15.8,"Verbraucherpreise":8.7},
{"d":"2023-03-01","Importpreise":-3.8,"Exportpreise":5.5,"Großhandelsverkaufspreise":0,"Erzeugerpreise gewerblicher Produkte":7.5,"Verbraucherpreise":7.4},
{"d":"2023-04-01","Importpreise":-7,"Exportpreise":3,"Großhandelsverkaufspreise":-0.5,"Erzeugerpreise gewerblicher Produkte":4.1,"Verbraucherpreise":7.2},
{"d":"2023-05-01","Exportpreise":1.2,"Großhandelsverkaufspreise":-2.6,"Erzeugerpreise gewerblicher Produkte":1,"Verbraucherpreise":6.1},
{"d":"2023-06-01","Verbraucherpreise":6.4}
]},
"transform":[{"fold":["Importpreise","Exportpreise","Großhandelsverkaufspreise","Erzeugerpreise gewerblicher Produkte","Verbraucherpreise"],"as":["series","value"]},{"filter":"isValid(datum.value)"}],
"mark":{"type":"line","strokeWidth":2,"strokeCap":"round","strokeJoin":"round"},
"encoding":{"x":{"field":"d","type":"temporal","title":null,"scale":{"type":"utc","domain":[{"year":2007,"month":11,"date":20,"utc":true},{"year":2023,"month":8,"date":7,"utc":true}],"range":[548.3,961]},
"axis":{"orient":"bottom","offset":-151.7,"grid":false,"values":[{"year":2008,"month":1,"date":1,"utc":true},{"year":2010,"month":1,"date":1,"utc":true},{"year":2012,"month":1,"date":1,"utc":true},{"year":2014,"month":1,"date":1,"utc":true},{"year":2016,"month":1,"date":1,"utc":true},{"year":2018,"month":1,"date":1,"utc":true},{"year":2020,"month":1,"date":1,"utc":true},{"year":2022,"month":1,"date":1,"utc":true}],"labelExpr":"utcFormat(datum.value,'%Y')","domainColor":"#555555","domainWidth":1.2,"tickColor":"#555555","tickSize":6,"labelFont":"Noto Sans","labelFontSize":10.5,"labelColor":"#666666","labelPadding":3,"labelOverlap":false}},
"y":{"field":"value","type":"quantitative","title":null,"scale":{"domain":[-20,50],"range":[433.3,275],"nice":false,"zero":false},
"axis":{"orient":"left","offset":-548.3,"values":[-20,-10,0,10,20,30,40,50],"domain":false,"ticks":false,"grid":true,"gridColor":"#f3f3f3","gridWidth":1.5,"labelFont":"Noto Sans","labelFontSize":10.5,"labelColor":"#666666","labelPadding":12,"labelExpr":"replace(format(datum.value,'d'),'−','-')"}},
"color":{"field":"series","type":"nominal","sort":null,"scale":{"domain":["Importpreise","Exportpreise","Großhandelsverkaufspreise","Erzeugerpreise gewerblicher Produkte","Verbraucherpreise"],"range":["#ff6a00","#333377","#339966","#990033","#ffcc33"]},
"legend":{"orient":"none","legendX":630,"legendY":469,"title":null,"symbolType":"stroke","symbolSize":144,"symbolStrokeWidth":4,"symbolOpacity":1,"labelFont":"Noto Sans","labelFontSize":11,"labelColor":"#555555","clipHeight":14.3,"rowPadding":0,"labelLimit":300,"labelOffset":1}}}},
{"mark":{"type":"text","style":"h1","x":11,"y":25,"text":"Gasimporte nach Deutschland"}},
{"mark":{"type":"point","shape":"circle","x":257,"y":19,"size":150,"stroke":"#444444","strokeWidth":1.1,"opacity":1}},
{"mark":{"type":"text","style":"i","x":257,"y":23,"text":"i"}},
{"mark":{"type":"text","style":"sub","x":11,"y":55,"text":"in Gigawattstunden"}},
{"mark":{"type":"text","style":"big","x":11,"y":124,"text":"2.444 GWh"}},
{"mark":{"type":"text","style":"big","x":256,"y":124,"text":"230 GWh"}},
{"mark":{"type":"text","style":"par","x":11,"y":146,"text":"Gas wurden am 28. Juni 2023 insgesamt"}},
{"mark":{"type":"text","style":"par","x":11,"y":163,"text":"nach Deutschland importiert"}},
{"mark":{"type":"text","style":"par","x":256,"y":146,"text":"Flüssiggas wurden am 28. Juni 2023 über"}},
{"mark":{"type":"text","style":"par","x":256,"y":163,"text":"den LNG-Terminal in Wilhelmshaven"}},
{"mark":{"type":"text","style":"par","x":256,"y":180,"text":"nach Deutschland importiert"}},
{"mark":{"type":"point","shape":"M-1,-0.75H1V-0.35H-1Z M-1,-0.2H1V0.2H-1Z M-1,0.35H1V0.75H-1Z","filled":true,"x":452,"y":231,"size":196,"fill":"#555555","opacity":1}},
{"mark":{"type":"text","style":"more","x":330,"y":567,"text":"Mehr Informationen"}},
{"mark":{"type":"point","shape":"M-1,0H1M0.3,-0.7L1,0L0.3,0.7","x":458,"y":563,"size":256,"stroke":"#0B55A5","strokeWidth":1.3,"opacity":1}},
{"mark":{"type":"text","style":"h1","x":519,"y":23,"fontSize":15.4,"text":"Preisveränderung"}},
{"mark":{"type":"point","shape":"circle","x":666,"y":17,"size":150,"stroke":"#444444","strokeWidth":1.1,"opacity":1}},
{"mark":{"type":"text","style":"i","x":666,"y":21,"text":"i"}},
{"mark":{"type":"text","style":"sub","x":519,"y":52,"text":"Veränderungsrate gegenüber dem Vorjahresmonat in Prozent"}},
{"mark":{"type":"point","shape":"M-1,1L1,-1M-0.15,-1L1,-1L1,0.15","x":527,"y":112,"size":256,"stroke":"#0B55A5","strokeWidth":1.3,"opacity":1}},
{"mark":{"type":"point","shape":"M-1,1L1,-1M-0.15,-1L1,-1L1,0.15","x":687,"y":112,"size":256,"stroke":"#0B55A5","strokeWidth":1.3,"opacity":1}},
{"mark":{"type":"point","shape":"M-1,-1L1,1M-0.15,1L1,1L1,-0.15","x":848,"y":112,"size":256,"stroke":"#0B55A5","strokeWidth":1.3,"opacity":1}},
{"mark":{"type":"text","style":"big","x":548,"y":120,"text":"6,4 %"}},
{"mark":{"type":"text","style":"big","x":709,"y":120,"text":"1,0 %"}},
{"mark":{"type":"text","style":"big","x":869,"y":120,"text":"2,6 %"}},
{"mark":{"type":"text","style":"par","x":519,"y":142,"text":"Inflationsrate im"}},
{"mark":{"type":"text","style":"par","x":519,"y":159,"text":"Juni 2023 (vorläufiger"}},
{"mark":{"type":"text","style":"par","x":519,"y":176,"text":"Wert)"}},
{"mark":{"type":"text","style":"par","x":679,"y":142,"text":"höhere Erzeugerpreise"}},
{"mark":{"type":"text","style":"par","x":679,"y":159,"text":"gewerblicher Produkte im"}},
{"mark":{"type":"text","style":"par","x":679,"y":176,"text":"Mai 2023 als im"}},
{"mark":{"type":"text","style":"par","x":679,"y":193,"text":"Vorjahresmonat"}},
{"mark":{"type":"text","style":"par","x":839,"y":142,"text":"niedrigere Verkaufspreise"}},
{"mark":{"type":"text","style":"par","x":839,"y":159,"text":"im Großhandel im"}},
{"mark":{"type":"text","style":"par","x":839,"y":176,"text":"Mai 2023 als im"}},
{"mark":{"type":"text","style":"par","x":839,"y":193,"text":"Vorjahresmonat"}},
{"mark":{"type":"point","shape":"M-1,-0.75H1V-0.35H-1Z M-1,-0.2H1V0.2H-1Z M-1,0.35H1V0.75H-1Z","filled":true,"x":951,"y":243,"size":196,"fill":"#555555","opacity":1}},
{"mark":{"type":"text","style":"more","x":831,"y":574,"text":"Mehr Informationen"}},
{"mark":{"type":"point","shape":"M-1,0H1M0.3,-0.7L1,0L0.3,0.7","x":958,"y":570,"size":256,"stroke":"#0B55A5","strokeWidth":1.3,"opacity":1}},
{"mark":{"type":"point","shape":"M-0.8,0.55C-0.55,0.35,-0.6,0.1,-0.55,-0.2C-0.5,-0.65,-0.2,-0.85,0,-0.85C0.2,-0.85,0.5,-0.65,0.55,-0.2C0.6,0.1,0.55,0.35,0.8,0.55Z M-0.3,0.55C-0.3,1,0.3,1,0.3,0.55","x":1231,"y":89,"size":441,"stroke":"#333333","strokeWidth":1.3,"opacity":1}},
{"mark":{"type":"point","shape":"M-0.25,-0.75a0.25,0.25,0,1,0,0.5,0a0.25,0.25,0,1,0,-0.5,0Z M-0.25,0a0.25,0.25,0,1,0,0.5,0a0.25,0.25,0,1,0,-0.5,0Z M-0.25,0.75a0.25,0.25,0,1,0,0.5,0a0.25,0.25,0,1,0,-0.5,0Z","filled":true,"x":1267,"y":89,"size":256,"fill":"#333333","opacity":1}},
{"mark":{"type":"text","style":"h2","x":1012,"y":140,"text":"Außenhandel"}},
{"mark":{"type":"point","shape":"M-1,1L1,-1M-0.15,-1L1,-1L1,0.15","x":1024.5,"y":187,"size":441,"stroke":"#0B55A5","strokeWidth":1.6,"opacity":1}},
{"mark":{"type":"text","style":"big2","x":1052,"y":198,"text":"1,2 %"}},
{"mark":{"type":"text","style":"par2","x":1012,"y":228,"text":"mehr Exporte im April 2023 als im"}},
{"mark":{"type":"text","style":"par2","x":1012,"y":250,"text":"Vormonat"}},
{"mark":{"type":"text","style":"more2","x":1089,"y":302,"text":"Mehr Informationen"}},
{"mark":{"type":"point","shape":"M-1,0H1M0.3,-0.7L1,0L0.3,0.7","x":1258,"y":296,"size":400,"stroke":"#0B55A5","strokeWidth":1.6,"opacity":1}},
{"mark":{"type":"point","shape":"M-0.8,0.55C-0.55,0.35,-0.6,0.1,-0.55,-0.2C-0.5,-0.65,-0.2,-0.85,0,-0.85C0.2,-0.85,0.5,-0.65,0.55,-0.2C0.6,0.1,0.55,0.35,0.8,0.55Z M-0.3,0.55C-0.3,1,0.3,1,0.3,0.55","x":1238,"y":350,"size":441,"stroke":"#333333","strokeWidth":1.3,"opacity":1}},
{"mark":{"type":"point","shape":"M-0.25,-0.75a0.25,0.25,0,1,0,0.5,0a0.25,0.25,0,1,0,-0.5,0Z M-0.25,0a0.25,0.25,0,1,0,0.5,0a0.25,0.25,0,1,0,-0.5,0Z M-0.25,0.75a0.25,0.25,0,1,0,0.5,0a0.25,0.25,0,1,0,-0.5,0Z","filled":true,"x":1275,"y":350,"size":256,"fill":"#333333","opacity":1}},
{"mark":{"type":"text","style":"h2","x":1008,"y":403,"fontSize":21.7,"text":"Außenhandel mit Russland"}},
{"mark":{"type":"point","shape":"M-1,-1L1,1M-0.15,1L1,1L1,-0.15","x":1020.5,"y":453.5,"size":529,"stroke":"#0B55A5","strokeWidth":1.8,"opacity":1}},
{"mark":{"type":"text","style":"big2","x":1049,"y":464,"fontSize":27,"text":"17,8 %"}},
{"mark":{"type":"text","style":"par2","x":1008,"y":495,"fontSize":15.6,"text":"weniger Exporte nach Russland im"}},
{"mark":{"type":"text","style":"par2","x":1008,"y":518,"fontSize":15.6,"text":"April 2023 als im Vormonat"}},
{"mark":{"type":"text","style":"more2","x":1088,"y":572,"fontSize":15.6,"text":"Mehr Informationen"}},
{"mark":{"type":"point","shape":"M-1,0H1M0.3,-0.7L1,0L0.3,0.7","x":1266,"y":566,"size":484,"stroke":"#0B55A5","strokeWidth":1.8,"opacity":1}},
{"mark":{"type":"point","shape":"M-1,-0.34H1V0.34H0.78L0.69,0.44L0.6,0.34H-1Z","x":412.5,"y":411,"size":16641,"stroke":"#333333","strokeWidth":1,"fill":"#ffffff","filled":true,"opacity":1}},
{"mark":{"type":"text","style":"tip","x":355,"y":407,"text":"Flüssiggas (LNG)"}},
{"mark":{"type":"text","style":"tip2","x":355,"y":424,"text":"28. Juni 2023: 230 GWh"}},
{"mark":{"type":"point","shape":"M-1,0A1,0.72,0,1,1,1,0A1,0.72,0,1,1,-1,0Z","x":413,"y":412,"size":23104,"stroke":"#E8505F","strokeWidth":4,"opacity":1}}
]}
